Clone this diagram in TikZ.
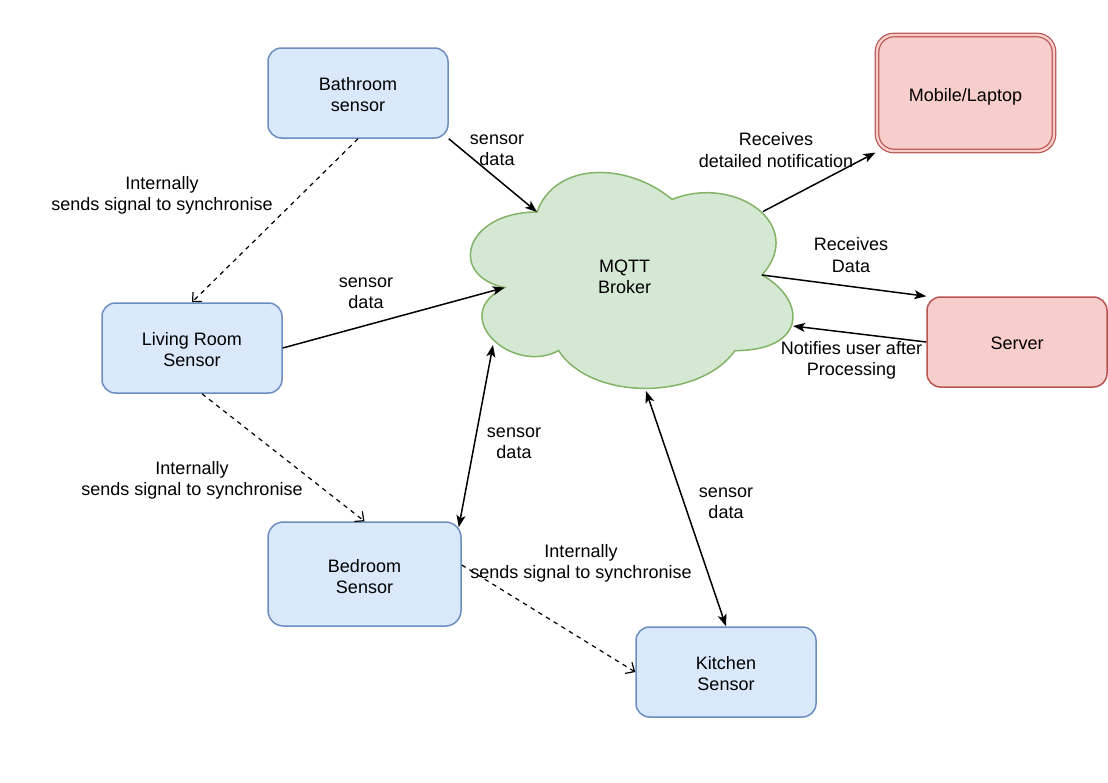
\documentclass[tikz,border=0pt]{standalone}
\usepackage{fontspec}
\setmainfont{Liberation Sans}
\usetikzlibrary{arrows.meta}
\definecolor{bluefill}{HTML}{DAE8FC}
\definecolor{bluedraw}{HTML}{6C8EBF}
\definecolor{redfill}{HTML}{F8CECC}
\definecolor{reddraw}{HTML}{B85450}
\definecolor{greenfill}{HTML}{D5E8D4}
\definecolor{greendraw}{HTML}{82B366}
% extra room above the text lowers it inside its box by half of #1
\newcommand\boxtext[2][8pt]{\raisebox{0pt}[\dimexpr\height+#1\relax][\depth]{\begin{tabular}{@{}c@{}}#2\end{tabular}}}
\tikzset{
  txt/.style={font=\fontsize{18}{21.2}\selectfont, align=center, inner sep=0pt},
  bluebox/.style={txt, draw=bluedraw, fill=bluefill, line width=1.5pt, rounded corners=13.5pt, minimum width=180pt, minimum height=90pt},
  redbox/.style={txt, draw=reddraw, fill=redfill, line width=1.5pt, rounded corners=13.5pt, minimum width=180pt, minimum height=90pt},
  tipS/.tip={Stealth[length=12pt,width=9pt,inset=3pt]},
  sarrow/.style={line width=1.5pt, -tipS},
  barrow/.style={line width=1.5pt, tipS-tipS},
  darrow/.style={line width=1.2pt, dash pattern=on 4.5pt off 4.5pt, -{Straight Barb[length=7pt,width=13pt,line width=1.2pt]}},
}
\begin{document}
\begin{tikzpicture}[x=1pt,y=-1pt]
\useasboundingbox (0,0) rectangle (1108,782);
% cloud
\draw[draw=greendraw, fill=greenfill, line width=1.5pt]
  (537,212) .. controls (465,212) and (447,275) .. (504.6,287.6)
  .. controls (447,315.3) and (511.8,375.8) .. (558.6,350.6)
  .. controls (591,401) and (699,401) .. (735,350.6)
  .. controls (807,350.6) and (807,300.2) .. (762,275)
  .. controls (807,224.6) and (735,174.2) .. (672,199.4)
  .. controls (627,161.6) and (555,161.6) .. (537,212) -- cycle;
\node[txt] (broker) at (624.5,277) {MQTT\\Broker};
\coordinate (c1) at (537,212);
\coordinate (c2) at (504.6,287.6);
\coordinate (c3) at (493,345);
\coordinate (c4) at (646,391);
\coordinate (c5) at (763,211.5);
\coordinate (c6) at (762,275);
\coordinate (c7) at (793,326);

% boxes
\node[bluebox] (bath) at (358,93) {\boxtext{Bathroom\\sensor}};
\node[bluebox] (living) at (192,348) {\boxtext[7pt]{Living Room\\Sensor}};
\node[bluebox, minimum width=193pt, minimum height=104pt, rounded corners=15.5pt] (bed) at (364.5,574) {\boxtext[10pt]{Bedroom\\Sensor}};
\node[bluebox] (kitchen) at (726,672) {\boxtext{Kitchen\\Sensor}};
\node[redbox, minimum width=177pt, minimum height=116pt, rounded corners=17pt, double=redfill, double distance=2.4pt, line width=1.2pt] (mobile) at (965.5,93) {\boxtext{Mobile/Laptop}};
\node[redbox] (server) at (1017,342) {\boxtext[6pt]{Server}};

% solid connectors
\draw[sarrow] (bath.south east) -- (c1);
\draw[sarrow] (living.east) -- (c2);
\draw[barrow] ([shift={(-3,6)}]bed.north east) -- (c3);
\draw[barrow] (kitchen.north) -- (c4);
\draw[sarrow] (c5) -- ([shift={(-1,1)}]mobile.south west);
\draw[sarrow] (c6) -- (server.north west);
\draw[sarrow] (server.west) -- (c7);

% dashed connectors
\draw[darrow] (bath.south) -- (living.north);
\draw[darrow] ([xshift=10pt]living.south) -- (bed.north);
\draw[darrow] ([yshift=9pt]bed.east) -- (kitchen.west);

% labels
\node[txt] (l1) at (497,150) {sensor\\data};
\node[txt] (l2) at (366,293) {sensor\\data};
\node[txt] (l3) at (514,443) {sensor\\data};
\node[txt] (l4) at (726,503) {sensor\\data};
\node[txt] (l5) at (776,150) {Receives\\detailed notification};
\node[txt] (l6) at (851,255) {Receives\\Data};
\node[txt] (l7) at (851.5,360) {Notifies user after\\Processing};
\node[txt] (l8) at (162,195) {Internally\\sends signal to synchronise};
\node[txt] (l9) at (192,480) {Internally\\sends signal to synchronise};
\node[txt] (l10) at (581,563.5) {Internally\\sends signal to synchronise};
\end{tikzpicture}
\end{document}
